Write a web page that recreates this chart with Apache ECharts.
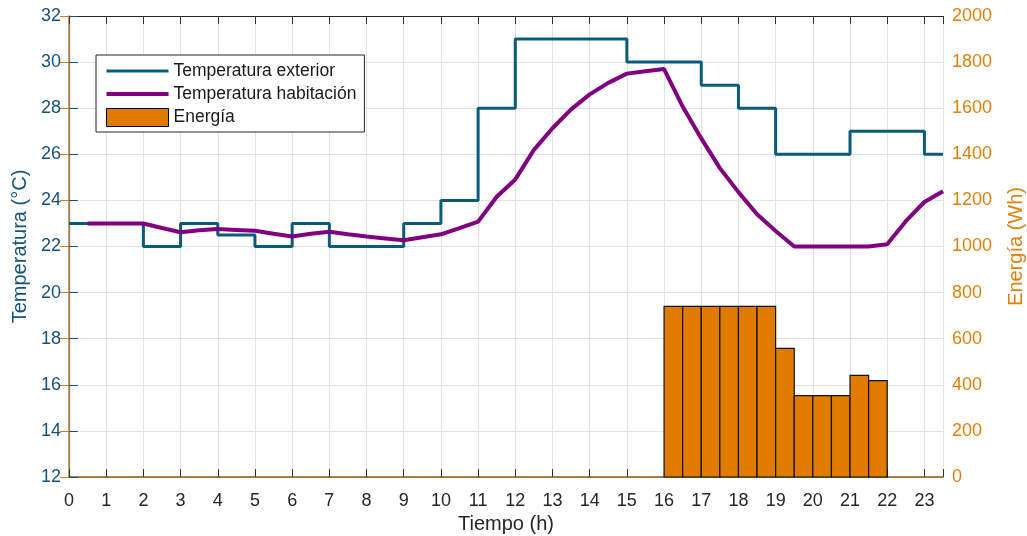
<!DOCTYPE html>
<html>
<head>
<meta charset="utf-8">
<script src="https://cdn.jsdelivr.net/npm/echarts@6/dist/echarts.min.js"></script>
<style>
html,body{margin:0;padding:0;background:#fff;}
#c{width:1027px;height:536px;}
</style>
</head>
<body>
<div id="c"></div>
<script>
// ---- data ----
const hours = [0,1,2,3,4,5,6,7,8,9,10,11,12,13,14,15,16,17,18,19,20,21,22,23,23.5];
const tempExterior = [23,23,22,23,22.5,22,23,22,22,23,24,28,31,31,31,30,30,29,28,26,26,27,27,26,26];
const roomTimes = [0.5,1,1.5,2,2.5,3,3.5,4,4.5,5,5.5,6,6.5,7,7.5,8,8.5,9,9.5,10,10.5,11,11.5,12,12.5,13,13.5,14,14.5,15,15.5,16,16.5,17,17.5,18,18.5,19,19.5,20,20.5,21,21.5,22,22.5,23,23.5];
const tempRoom = [23,23,23,23,22.8,22.62,22.7,22.76,22.72,22.68,22.55,22.43,22.55,22.64,22.53,22.43,22.35,22.27,22.4,22.53,22.8,23.08,24.16,24.91,26.19,27.13,27.95,28.6,29.1,29.5,29.6,29.7,28.07,26.69,25.4,24.36,23.4,22.67,22.0,22.0,22.0,22.0,22.0,22.1,23.1,23.93,24.4];
const energyStart = [16,16.5,17,17.5,18,18.5,19,19.5,20,20.5,21,21.5];
const energyWh = [740,740,740,740,740,740,558,353,353,353,441,418];
const xTicks = {min:0, max:23.5, interval:1};
const yLeftTicks = {min:12, max:32, interval:2};
const yRightTicks = {min:0, max:2000, interval:200};

const BLUE = '#0a5a7e';
const BLUE_TXT = '#15527c';
const PURPLE = '#800080';
const ORANGE = '#e07b00';
const ORANGE_TXT = '#e0800a';
const TXT = '#262626';
const FONT = '"Liberation Sans", Arial, sans-serif';

const extData = hours.map((h,i)=>[h,tempExterior[i]]);
const roomData = roomTimes.map((t,i)=>[t,tempRoom[i]]);
const energyData = energyStart.map((s,i)=>[s, s+0.5, energyWh[i]]);

const chart = echarts.init(document.getElementById('c'), null, {renderer:'canvas'});
chart.setOption({
  animation:false,
  backgroundColor:'#fff',
  textStyle:{fontFamily:FONT},
  grid:{left:69, right:84, top:16, bottom:59, containLabel:false, outerBoundsMode:'none'},
  legend:{
    orient:'vertical', left:96, top:55,
    padding:[7,8,5,10],
    itemWidth:62, itemHeight:18, itemGap:5,
    backgroundColor:'#fff', borderColor:'#262626', borderWidth:1,
    textStyle:{fontSize:17.5, color:'#1a1a1a', fontFamily:FONT},
    data:[
      {name:'Temperatura exterior', icon:'path://M0,0M62,18M0,7.5H62V10.5H0Z', itemStyle:{color:BLUE, borderWidth:0}},
      {name:'Temperatura habitación', icon:'path://M0,0M62,18M0,7H62V11H0Z', itemStyle:{color:PURPLE, borderWidth:0}},
      {name:'Energía', icon:'rect', itemStyle:{color:ORANGE, borderColor:'#000', borderWidth:1}}
    ]
  },
  xAxis:[{
    type:'value', position:'bottom',
    min:xTicks.min, max:xTicks.max, interval:xTicks.interval,
    name:'Tiempo (h)', nameLocation:'middle', nameGap:37,
    nameTextStyle:{fontSize:20, color:TXT, fontFamily:FONT},
    axisLine:{show:true, lineStyle:{color:'#8f5410', width:1.5}},
    axisTick:{show:true, inside:true, length:8, lineStyle:{color:'#333'}},
    axisLabel:{fontSize:18, color:TXT, margin:15, fontFamily:FONT,
      formatter:v=> (v%1===0 ? String(v) : '')},
    splitLine:{show:true, lineStyle:{color:'#e2e2e2', width:1}}
  },{
    type:'value', position:'top',
    min:xTicks.min, max:xTicks.max, interval:xTicks.interval,
    axisLine:{show:true, lineStyle:{color:'#262626', width:1}},
    axisTick:{show:true, inside:true, length:8, lineStyle:{color:'#333'}},
    axisLabel:{show:false},
    splitLine:{show:false}
  }],
  yAxis:[{
    type:'value', position:'left',
    min:yLeftTicks.min, max:yLeftTicks.max, interval:yLeftTicks.interval,
    name:'Temperatura (°C)', nameLocation:'middle', nameGap:33, nameRotate:90,
    nameTextStyle:{fontSize:20, color:BLUE_TXT, fontFamily:FONT},
    axisLine:{show:true, lineStyle:{color:BLUE, width:1.2}},
    axisTick:{show:true, inside:true, length:9, lineStyle:{color:BLUE}},
    axisLabel:{fontSize:18, color:BLUE_TXT, margin:8, fontFamily:FONT},
    splitLine:{show:true, lineStyle:{color:'#dbe4ec', width:1}}
  },{
    type:'value', position:'right',
    min:yRightTicks.min, max:yRightTicks.max, interval:yRightTicks.interval,
    name:'Energía (Wh)', nameLocation:'middle', nameGap:63, nameRotate:90,
    nameTextStyle:{fontSize:20, color:ORANGE_TXT, fontFamily:FONT},
    axisLine:{show:true, lineStyle:{color:'#c48a45', width:1.5}},
    axisTick:{show:true, inside:true, length:9, lineStyle:{color:ORANGE}},
    axisLabel:{fontSize:18, color:ORANGE_TXT, margin:9, fontFamily:FONT,
      formatter:v=>String(v)},
    splitLine:{show:false}
  }],
  series:[{
    name:'Energía', type:'custom', xAxisIndex:0, yAxisIndex:1, z:2,
    itemStyle:{color:ORANGE, borderColor:'#000', borderWidth:1},
    encode:{x:[0,1], y:2},
    data:energyData,
    renderItem:function(params, api){
      const p0 = api.coord([api.value(0), api.value(2)]);
      const p1 = api.coord([api.value(1), 0]);
      return {
        type:'rect',
        shape:{x:p0[0], y:p0[1], width:p1[0]-p0[0], height:p1[1]-p0[1]},
        style:{fill:ORANGE, stroke:'#111', lineWidth:1.2}
      };
    }
  },{
    name:'Temperatura exterior', type:'line', xAxisIndex:0, yAxisIndex:0, z:4,
    step:'end', showSymbol:false, symbol:'none',
    lineStyle:{color:BLUE, width:3},
    itemStyle:{color:BLUE},
    data:extData
  },{
    name:'Temperatura habitación', type:'line', xAxisIndex:0, yAxisIndex:0, z:5,
    showSymbol:false, symbol:'none',
    lineStyle:{color:PURPLE, width:4},
    itemStyle:{color:PURPLE},
    data:roomData
  }]
});
</script>
</body>
</html>
